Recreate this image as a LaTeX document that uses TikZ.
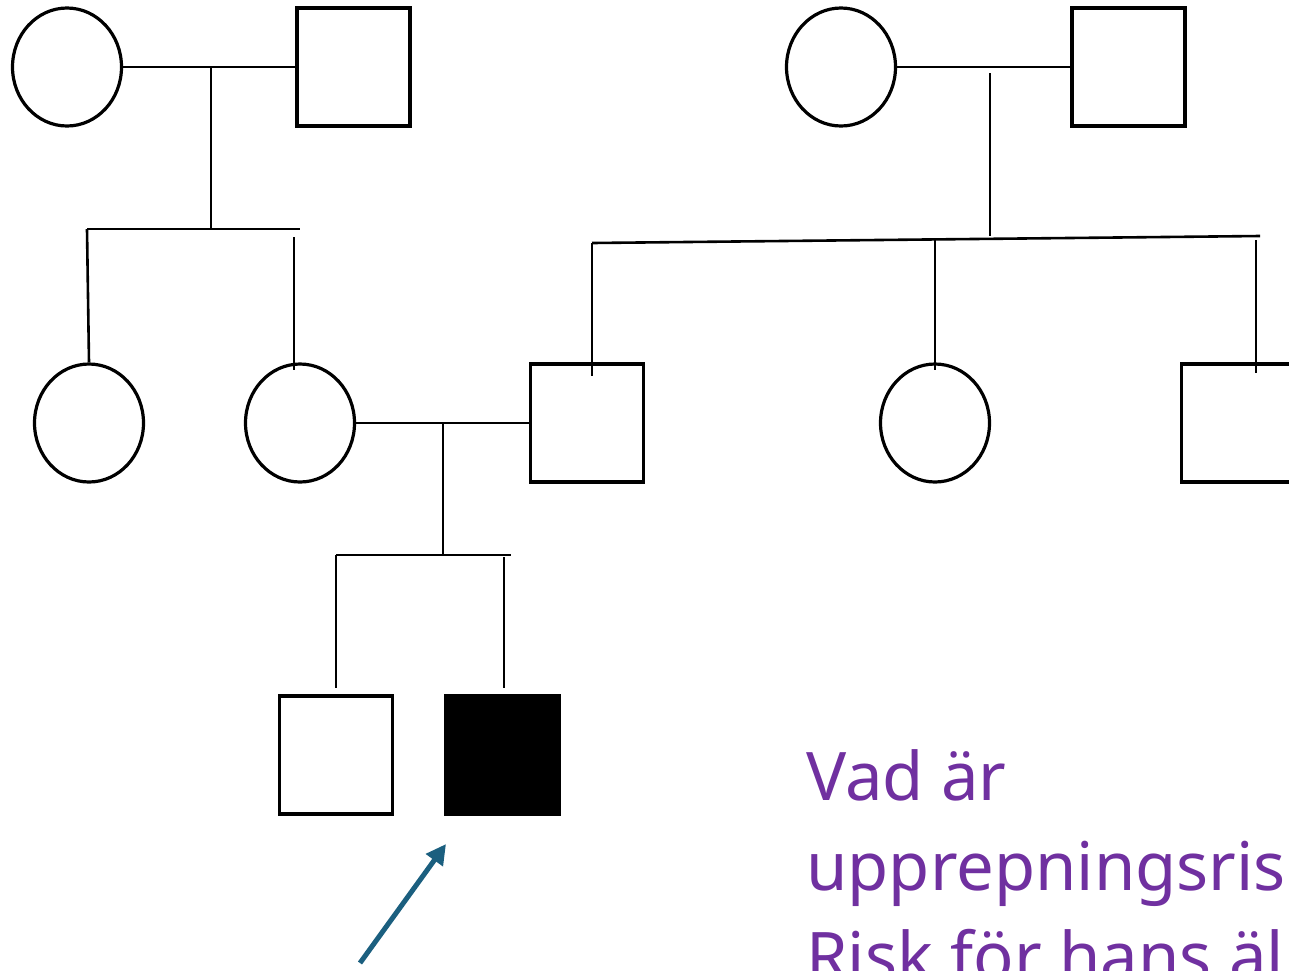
\documentclass[tikz,border=0pt]{standalone}
\usepackage{fontspec}
\setmainfont{Noto Sans}
\usetikzlibrary{shapes.geometric,arrows.meta}

\definecolor{askpurple}{HTML}{7030A0}
\definecolor{pointerblue}{HTML}{1B5F7F}

\tikzset{
  female/.style={ellipse, draw, line width=3.2pt, minimum width=109pt, minimum height=118pt, inner sep=0pt},
  male/.style={rectangle, draw, line width=3.2pt, minimum width=113pt, minimum height=118pt, inner sep=0pt},
  affected/.style={male, fill=black},
  link/.style={line width=2.6pt},
  question/.style={anchor=base west, inner sep=0pt, text=askpurple, font=\fontsize{67}{90}\selectfont},
}

\begin{document}
\begin{tikzpicture}[x=1pt, y=-1pt]
  \useasboundingbox (0,0) rectangle (1289,970);
  \clip (0,0) rectangle (1289,970);

  % grandparents
  \node[female] (mgm) at (67,67) {};
  \node[male] (mgf) at (353.5,67) {};
  \node[female] (pgm) at (841,67) {};
  \node[male] (pgf) at (1128.5,67) {};

  % parents and their siblings
  \node[female] (aunt) at (89,423) {};
  \node[female] (mother) at (300,423) {};
  \node[male] (father) at (587,423) {};
  \node[female] (sister) at (935,423) {};
  \node[male] (uncle) at (1238,423) {};

  % children
  \node[male] (brother) at (336,755) {};
  \node[affected] (proband) at (502.5,755) {};

  % matings
  \draw[link] (mgm.east) -- (mgf.west);
  \draw[link] (pgm.east) -- (pgf.west);
  \draw[link] (mother.east) -- (father.west);

  % left family
  \coordinate (m1) at (211,67);
  \coordinate (s1) at (211,229);
  \draw[link] (m1) -- (s1);
  \draw[link] (87,229) -- (300,229);
  \draw[link] (87,229) -- (aunt.north);
  \draw[link] (294,237) -- (294,370);

  % right family
  \coordinate (m2) at (990,73);
  \coordinate (s2) at (990,236);
  \draw[link] (m2) -- (s2);
  \draw[link] (592,243) -- (1260,236);
  \draw[link] (592,243) -- (592,376);
  \draw[link] (935,238) -- (935,370);
  \draw[link] (1256,240) -- (1256,373);

  % their sons
  \coordinate (m3) at (443,423);
  \coordinate (s3) at (443,555);
  \draw[link] (m3) -- (s3);
  \draw[link] (336,555) -- (511,555);
  \draw[link] (336,555) -- (336,688);
  \draw[link] (504,557) -- (504,688);

  % proband pointer
  \coordinate (tail) at (360,963);
  \coordinate (tip) at (446,844);
  \draw[pointerblue, line width=5pt, -{Triangle[length=20pt, width=20pt]}] (tail) -- (tip);

  % question
  \node[question] (q1) at (806,800) {Vad är};
  \node[question] (q2) at (806,890) {upprepningsris};
  \node[question] (q3) at (806,980) {Risk för hans äl};
\end{tikzpicture}
\end{document}
